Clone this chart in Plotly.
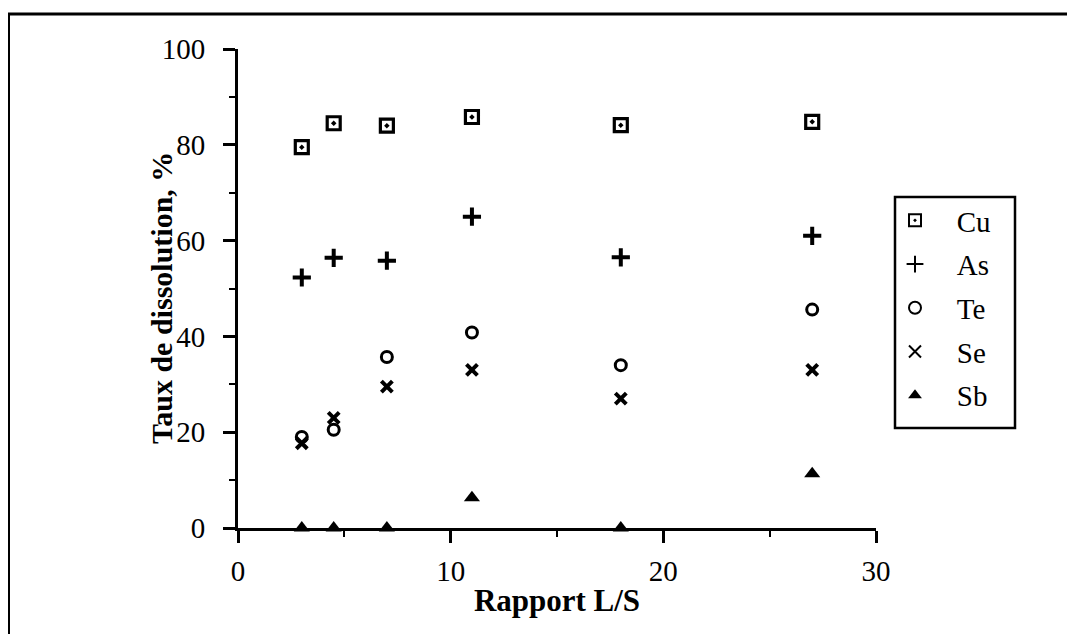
import plotly.graph_objects as go

ratio = [3, 4.5, 7, 11, 18, 27]
cu = [79.5, 84.5, 84.0, 85.8, 84.1, 84.8]
as_ = [52.3, 56.4, 55.8, 65.0, 56.5, 61.0]
te = [19.0, 20.5, 35.7, 40.8, 34.0, 45.6]
se = [17.7, 23.0, 29.5, 33.0, 27.0, 33.0]
sb = [0, 0, 0, 6.3, 0, 11.3]
names = ["Cu", "As", "Te", "Se", "Sb"]

styles = [
    dict(symbol="square-open-dot", size=13, line=dict(width=3.2, color="black")),
    dict(symbol="cross-thin", size=13, line=dict(width=4, color="black")),
    dict(symbol="circle-open", size=11, line=dict(width=3, color="black")),
    dict(symbol="x-thin", size=11, line=dict(width=4, color="black")),
    dict(symbol="triangle-up", size=14, line=dict(width=0, color="black")),
]

FONT = "Liberation Serif, Times New Roman, serif"
NB = "\u00a0"

# page offset (browser body margin)
OFF = 8
W, H = 1075 - OFF, 634 - OFF
L, R, T, B = 238 - OFF, 876 - OFF, 49 - OFF, 528 - OFF
pw, ph = R - L, B - T

def px_x(p):
    return (p - OFF - L) / pw

def px_y(p):
    return (B - (p - OFF)) / ph

fig = go.Figure()
for name, vals, mk in zip(names, [cu, as_, te, se, sb], styles):
    fig.add_trace(go.Scatter(
        x=ratio, y=vals, mode="markers", name=NB * 3 + name + NB * 2, legendgroup=name,
        marker=dict(color="black", **mk), cliponaxis=False,
    ))

axis_common = dict(
    showline=True, linecolor="black", linewidth=3, mirror=False,
    ticks="outside", ticklen=12, tickwidth=2.5, tickcolor="black",
    showgrid=False, zeroline=False,
    tickfont=dict(family=FONT, size=29, color="black"),
)

fig.update_xaxes(
    range=[0, 30], tick0=0, dtick=10, ticklabelstandoff=3,
    minor=dict(ticks="outside", ticklen=6, tickwidth=2, tickcolor="black", dtick=5, showgrid=False),
    title=dict(text="<b>Rapport L/S</b>", font=dict(family=FONT, size=31, color="black"), standoff=4),
    **axis_common,
)
fig.update_yaxes(
    range=[0, 100], tick0=0, dtick=20, ticklabelstandoff=12,
    minor=dict(ticks="outside", ticklen=6, tickwidth=2, tickcolor="black", dtick=10, showgrid=False),
    **axis_common,
)

shapes = [
    dict(type="line", xref="paper", yref="paper", x0=px_x(7), x1=px_x(1080), y0=px_y(14), y1=px_y(14),
         line=dict(color="black", width=3)),
    dict(type="line", xref="paper", yref="paper", x0=px_x(8.5), x1=px_x(8.5), y0=px_y(13), y1=px_y(640),
         line=dict(color="black", width=3)),
    # legend frame
    dict(type="rect", xref="paper", yref="paper", x0=px_x(895), x1=px_x(1015), y0=px_y(428), y1=px_y(197),
         line=dict(color="black", width=2.5), fillcolor="white", layer="below"),
]

annotations = [
    dict(text="<b>Taux de dissolution, %</b>", xref="paper", yref="paper",
         x=px_x(161), y=px_y(298), xanchor="center", yanchor="middle",
         textangle=-90, showarrow=False,
         font=dict(family=FONT, size=30, color="black")),
]

fig.update_layout(
    width=W, height=H,
    margin=dict(l=L, r=W - R, t=T, b=H - B, pad=0),
    paper_bgcolor="white", plot_bgcolor="white",
    showlegend=True,
    legend=dict(
        x=px_x(895), y=px_y(195), xanchor="left", yanchor="top",
        bgcolor="rgba(0,0,0,0)", borderwidth=0,
        font=dict(family=FONT, size=29, color="black"),
        tracegroupgap=3, traceorder="grouped",
        itemsizing="constant",
    ),
    shapes=shapes,
    annotations=annotations,
)

fig.write_html("out.html")
